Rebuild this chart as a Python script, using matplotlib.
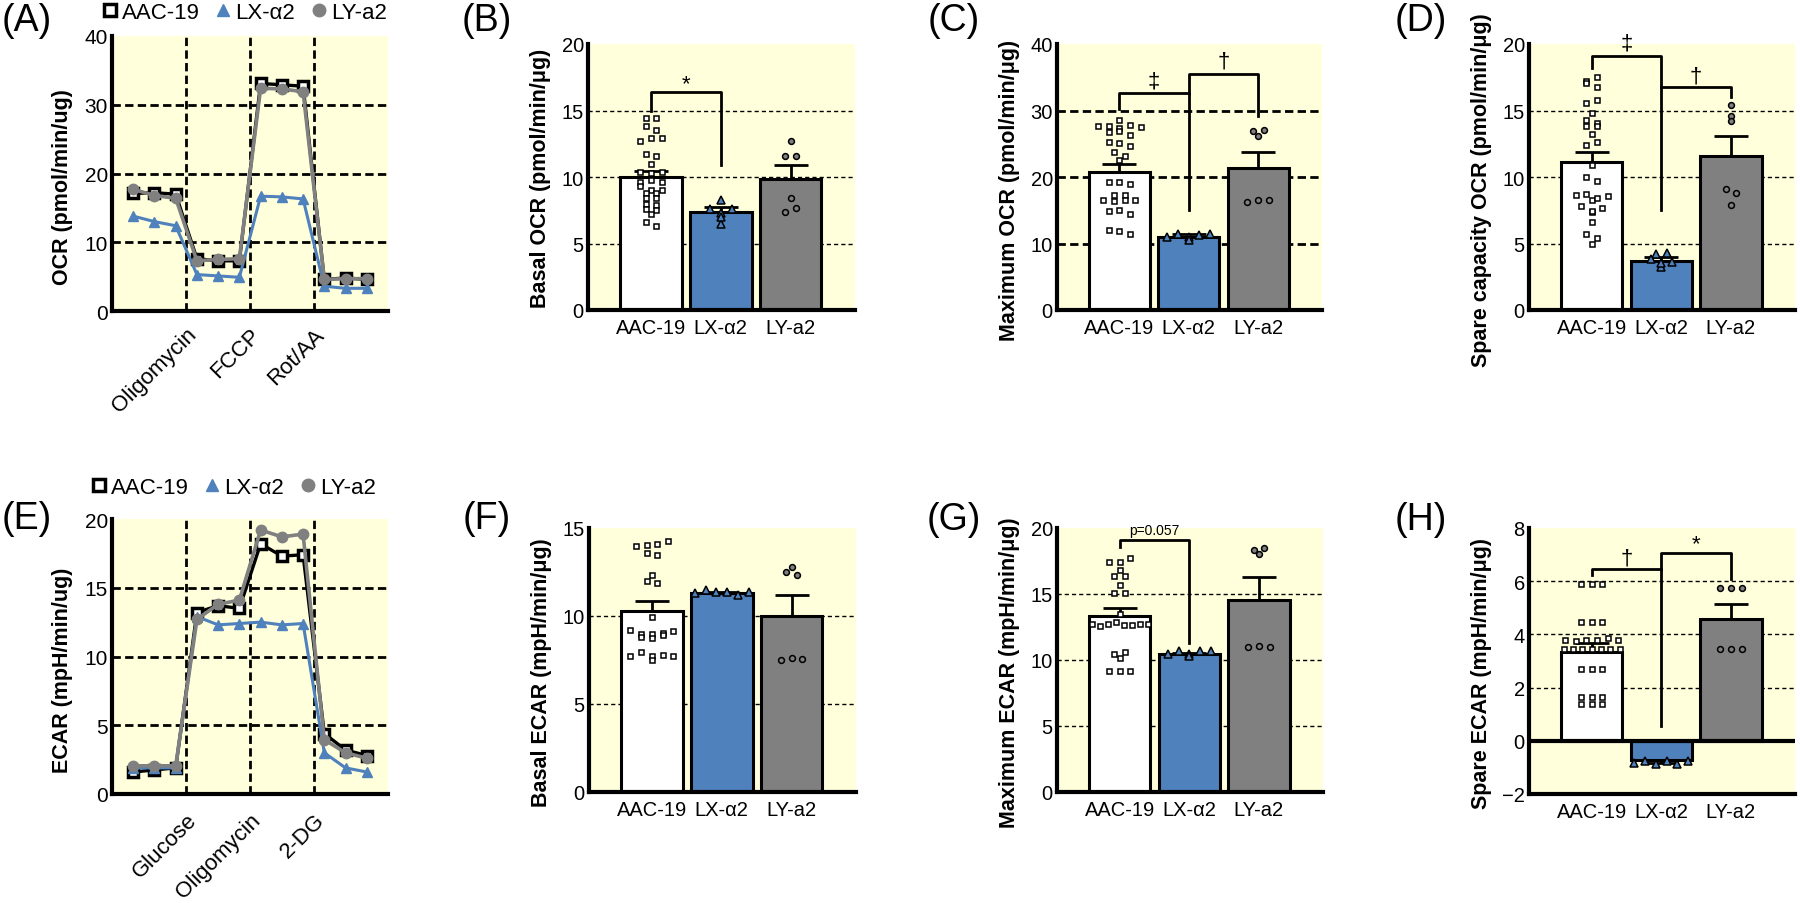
import numpy as np
import matplotlib
matplotlib.use('Agg')
import matplotlib.pyplot as plt
from matplotlib.lines import Line2D

plt.rcParams['font.family'] = ['Liberation Sans', 'DejaVu Sans']

groups = ['AAC-19', 'LX-\u03b12', 'LY-a2']

# time course, 12 measurements per line
ocr_aac = [17.1, 17.2, 17.0, 7.6, 7.3, 7.3, 33.1, 32.9, 32.7, 4.6, 4.8, 4.6]
ocr_lx = [13.8, 13.0, 12.4, 5.3, 5.1, 4.9, 16.7, 16.6, 16.3, 3.6, 3.3, 3.3]
ocr_ly = [17.7, 16.8, 16.4, 7.3, 7.5, 7.6, 32.4, 32.3, 31.9, 4.6, 4.7, 4.7]
ocr_steps = ['Oligomycin', 'FCCP', 'Rot/AA']

ecar_aac = [1.6, 1.75, 1.9, 13.2, 13.7, 13.5, 18.2, 17.3, 17.4, 4.4, 3.2, 2.8]
ecar_lx = [1.9, 1.9, 1.9, 12.9, 12.3, 12.4, 12.5, 12.3, 12.4, 3.0, 1.9, 1.6]
ecar_ly = [2.05, 2.05, 2.05, 12.7, 13.8, 14.1, 19.2, 18.7, 18.9, 3.95, 3.0, 2.6]
ecar_steps = ['Glucose', 'Oligomycin', '2-DG']

# bar panels: means, sem, individual points
basal_ocr_mean = [10.0, 7.35, 9.85]
basal_ocr_sem = [0.46, 0.37, 1.05]
basal_ocr_aac = [14.4, 14.4, 13.8, 13.5, 12.7, 12.9, 12.9, 11.7, 11.6, 11.0, 10.4, 10.3, 10.4,
                 9.6, 9.8, 9.6, 9.3, 9.0, 9.0, 8.8, 8.8, 8.4, 8.4, 8.0, 7.9, 7.6, 7.5, 7.2, 6.6, 6.3]
basal_ocr_lx = [6.5, 7.6, 8.3, 7.3, 7.6, 7.0]
basal_ocr_ly = [12.7, 11.6, 11.6, 8.4, 7.4, 7.7]

max_ocr_mean = [20.8, 11.05, 21.35]
max_ocr_sem = [1.15, 0.35, 2.45]
max_ocr_aac = [28.6, 27.6, 27.6, 27.3, 27.8, 27.5, 26.7, 26.95, 26.3, 25.3, 25.1, 24.7, 23.7, 23.1, 22.6,
               19.2, 19.2, 19.0, 17.3, 17.3, 16.5, 16.4, 16.5, 16.5, 14.9, 15.1, 14.5, 12.0, 11.9, 11.4]
max_ocr_lx = [11.0, 11.5, 11.0, 11.3, 10.6, 11.4]
max_ocr_ly = [26.9, 26.2, 27.0, 16.3, 16.5, 16.5]

spare_ocr_mean = [11.1, 3.7, 11.55]
spare_ocr_sem = [0.8, 0.25, 1.5]
spare_ocr_aac = [17.2, 17.5, 17.1, 16.8, 15.6, 15.8, 14.8, 14.3, 14.05, 13.8, 13.8, 13.2, 12.4, 12.6, 10.9,
                 10.0, 9.7, 8.65, 8.7, 8.3, 8.4, 8.6, 7.8, 7.4, 7.45, 7.7, 6.65, 5.7, 5.45, 4.95]
spare_ocr_lx = [4.2, 3.2, 3.8, 4.3, 3.5, 3.6]
spare_ocr_ly = [15.4, 14.6, 14.2, 9.1, 8.8, 7.9]

basal_ecar_mean = [10.27, 11.33, 9.98]
basal_ecar_sem = [0.56, 0.04, 1.19]
basal_ecar_aac = [14.0, 14.05, 14.1, 14.25, 13.6, 13.45, 12.35, 12.0, 11.9, 9.95, 9.2, 8.95, 8.95, 9.05,
                  9.15, 8.8, 8.75, 8.9, 7.75, 7.95, 7.75, 7.8, 7.5, 7.75]
basal_ecar_lx = [11.3, 11.45, 11.35, 11.35, 11.2, 11.35]
basal_ecar_ly = [12.5, 12.8, 12.35, 7.5, 7.6, 7.55]

max_ecar_mean = [13.31, 10.48, 14.57]
max_ecar_sem = [0.65, 0.08, 1.72]
max_ecar_aac = [17.4, 17.45, 17.7, 16.85, 16.35, 16.35, 15.65, 15.05, 15.1, 13.45, 12.7, 12.6, 12.7, 12.9,
                12.65, 12.65, 12.7, 12.7, 10.45, 10.6, 10.15, 9.15, 9.15, 9.15]
max_ecar_lx = [10.45, 10.7, 10.45, 10.7, 10.3, 10.7]
max_ecar_ly = [18.3, 18.05, 18.5, 10.95, 11.05, 11.0]

spare_ecar_mean = [3.33, -0.71, 4.59]
spare_ecar_sem = [0.34, 0.12, 0.54]
spare_ecar_aac = [5.9, 5.9, 5.9, 4.45, 4.45, 4.45, 3.8, 3.77, 3.8, 3.8, 3.86, 3.8,
                  3.45, 3.45, 3.45, 3.45, 3.45, 3.45, 3.45, 2.7, 2.7, 2.7, 1.64, 1.64, 1.64, 1.39, 1.39, 1.39]
spare_ecar_lx = [-0.85, -0.75, -0.87, -0.75, -0.87, -0.75]
spare_ecar_ly = [5.75, 5.75, 5.75, 3.45, 3.45, 3.45]

BG = '#FFFFDC'
BLUE = '#4F81BD'
GRAY = '#808080'
THICK = dict(lw=2, ls=(0, (3, 1.55)))
THIN = dict(lw=1, ls=(0, (3, 2.2)))

W, H = 1800, 904
fig = plt.figure(figsize=(18, 9.04), dpi=100)


def px_axes(left, top, width, height):
    return fig.add_axes([left / W, 1 - (top + height) / H, width / W, height / H])


def style_axes(ax, ylim, yticks, grid, ylabel, label_y=0.455, fs=14.5):
    ax.set_facecolor(BG)
    ax.set_ylim(ylim)
    ax.set_yticks(yticks)
    for s in ['top', 'right']:
        ax.spines[s].set_visible(False)
    for s in ['left', 'bottom']:
        ax.spines[s].set_linewidth(3)
    ax.tick_params(axis='y', length=0, labelsize=fs, pad=3)
    for t in yticks:
        if t != 0 and ylim[0] < t < ylim[1]:
            ax.axhline(t, color='k', zorder=1, **grid)
    ax.set_ylabel(ylabel, fontsize=15.5, fontweight='bold')
    ax.yaxis.set_label_coords(-0.14, label_y)


def swarm_offsets(vals, tol, step=0.154, maxw=0.8):
    vals = np.asarray(vals, float)
    order = np.argsort(-vals, kind='stable')
    offs = np.zeros(len(vals))
    used = np.zeros(len(vals), bool)
    for i in order:
        if used[i]:
            continue
        row = sorted(j for j in order if not used[j] and vals[i] - vals[j] <= tol)
        for j in row:
            used[j] = True
        n = len(row)
        if n > 1:
            d = min(step, maxw / (n - 1))
            for k, j in enumerate(row):
                offs[j] = (k - (n - 1) / 2) * d
    return offs


def line_panel(ax, aac, lx, ly, steps, pad):
    x = np.arange(1, 13)
    ax.plot(x, aac, color='k', lw=2.4, marker='s', ms=7, mfc='white', mec='k', mew=2.5, zorder=3)
    ax.plot(x, lx, color=BLUE, lw=2.2, marker='^', ms=7.5, mfc=BLUE, mec=BLUE, zorder=4)
    ax.plot(x, ly, color=GRAY, lw=2.6, marker='o', ms=7.5, mfc=GRAY, mec=GRAY, zorder=5)
    ax.set_xlim(0, 13)
    for xv in [3.5, 6.5, 9.5]:
        ax.axvline(xv, color='k', zorder=1, **THICK)
    ax.set_xticks([3.5, 6.5, 9.5])
    ax.set_xticklabels(steps, rotation=45, ha='right', rotation_mode='anchor', fontsize=16)
    ax.tick_params(axis='x', length=0, pad=pad)


def legend(ax, anchor):
    handles = [
        Line2D([], [], ls='none', marker='s', ms=8, mfc='white', mec='k', mew=2.5),
        Line2D([], [], ls='none', marker='^', ms=9, mfc=BLUE, mec=BLUE),
        Line2D([], [], ls='none', marker='o', ms=9, mfc=GRAY, mec=GRAY),
    ]
    ax.legend(handles, groups, loc='center', bbox_to_anchor=anchor, ncol=3, frameon=False,
              fontsize=16, handlelength=0.7, handletextpad=0.2, columnspacing=0.7, borderpad=0)


def bar_panel(ax, means, sems, points, ylim):
    x = np.arange(3)
    ax.bar(x, means, width=0.88, color=['white', BLUE, GRAY], edgecolor='k', lw=2.2, zorder=2)
    for i in range(3):
        m, s = means[i], sems[i]
        yerr = [[s if m < 0 else 0], [0 if m < 0 else s]]
        ax.errorbar(x[i], m, yerr=yerr, color='k', lw=2, capsize=12.5, capthick=2, zorder=3)
    tol = 0.018 * (ylim[1] - ylim[0])
    styles = [('s', 'white', 3.6), ('^', BLUE, 5.2), ('o', GRAY, 4.2)]
    for i, vals in enumerate(points):
        mk, fc, ms = styles[i]
        ax.plot(x[i] + swarm_offsets(vals, tol), vals, ls='none', marker=mk, ms=ms,
                mfc=fc, mec='k', mew=1.1, zorder=4, clip_on=False)
    ax.set_xlim(-0.9, 2.92)
    ax.set_xticks(x)
    ax.set_xticklabels(groups, fontsize=14.5)
    ax.tick_params(axis='x', length=0, pad=6)


def bracket(ax, x1, x2, top, y1, y2, label, label_y, fs=16):
    ax.plot([x1, x1, x2, x2], [y1, top, top, y2], color='k', lw=2, zorder=5, clip_on=False)
    ax.text((x1 + x2) / 2, label_y, label, ha='center', va='center', fontsize=fs, clip_on=False)


# (A) OCR time course
ax = px_axes(112, 37, 276, 275)
style_axes(ax, (0, 40), [0, 10, 20, 30, 40], THICK, 'OCR (pmol/min/ug)', fs=15)
line_panel(ax, ocr_aac, ocr_lx, ocr_ly, ocr_steps, pad=9)
legend(ax, (0.48, 1.087))

# (B) basal OCR
ax = px_axes(588, 45, 267, 266)
style_axes(ax, (0, 20), [0, 5, 10, 15, 20], THIN, 'Basal OCR (pmol/min/\u03bcg)', label_y=0.5)
bar_panel(ax, basal_ocr_mean, basal_ocr_sem, [basal_ocr_aac, basal_ocr_lx, basal_ocr_ly], (0, 20))
bracket(ax, 0, 1, 16.36, 15.0, 10.9, '*', 17.0)

# (C) maximum OCR
ax = px_axes(1057, 45, 265, 266)
style_axes(ax, (0, 40), [0, 10, 20, 30, 40], THICK, 'Maximum OCR (pmol/min/\u03bcg)')
bar_panel(ax, max_ocr_mean, max_ocr_sem, [max_ocr_aac, max_ocr_lx, max_ocr_ly], (0, 40))
bracket(ax, 0, 1, 32.6, 30.2, 15.1, '\u2021', 34.4)
bracket(ax, 1, 2, 35.5, 32.6, 29.2, '\u2020', 37.5)

# (D) spare capacity OCR
ax = px_axes(1529, 45, 266, 266)
style_axes(ax, (0, 20), [0, 5, 10, 15, 20], THIN, 'Spare capacity OCR (pmol/min/\u03bcg)')
bar_panel(ax, spare_ocr_mean, spare_ocr_sem, [spare_ocr_aac, spare_ocr_lx, spare_ocr_ly], (0, 20))
bracket(ax, 0, 1, 19.07, 18.2, 7.53, '\u2021', 20.1)
bracket(ax, 1, 2, 16.74, 16.74, 16.0, '\u2020', 17.6)

# (E) ECAR time course
ax = px_axes(112, 520, 276, 275)
style_axes(ax, (0, 20), [0, 5, 10, 15, 20], THICK, 'ECAR (mpH/min/ug)', fs=15)
line_panel(ax, ecar_aac, ecar_lx, ecar_ly, ecar_steps, pad=11)
legend(ax, (0.44, 1.115))

# (F) basal ECAR
ax = px_axes(589, 529, 267, 264)
style_axes(ax, (0, 15), [0, 5, 10, 15], THIN, 'Basal ECAR (mpH/min/\u03bcg)')
bar_panel(ax, basal_ecar_mean, basal_ecar_sem, [basal_ecar_aac, basal_ecar_lx, basal_ecar_ly], (0, 15))

# (G) maximum ECAR
ax = px_axes(1057, 529, 266, 264)
style_axes(ax, (0, 20), [0, 5, 10, 15, 20], THIN, 'Maximum ECAR (mpH/min/\u03bcg)')
bar_panel(ax, max_ecar_mean, max_ecar_sem, [max_ecar_aac, max_ecar_lx, max_ecar_ly], (0, 20))
bracket(ax, 0, 1, 19.07, 18.56, 11.31, 'p=0.057', 19.85, fs=10)

# (H) spare ECAR
ax = px_axes(1529, 529, 266, 266)
style_axes(ax, (-2, 8), [-2, 0, 2, 4, 6, 8], THIN, 'Spare ECAR (mpH/min/\u03bcg)')
ax.axhline(0, color='k', lw=3, zorder=3)
bar_panel(ax, spare_ecar_mean, spare_ecar_sem, [spare_ecar_aac, spare_ecar_lx, spare_ecar_ly], (-2, 8))
bracket(ax, 0, 1, 6.45, 6.22, 0.55, '\u2020', 6.88)
bracket(ax, 1, 2, 7.07, 6.45, 6.07, '*', 7.4)

# panel letters
for letter, x, y in [('(A)', 2, 21), ('(B)', 462, 21), ('(C)', 928, 21), ('(D)', 1395, 21),
                     ('(E)', 2, 519), ('(F)', 463, 519), ('(G)', 927, 520), ('(H)', 1395, 520)]:
    fig.text(x / W, 1 - y / H, letter, fontsize=27, ha='left', va='center')

fig.savefig('out.png', dpi=100)
